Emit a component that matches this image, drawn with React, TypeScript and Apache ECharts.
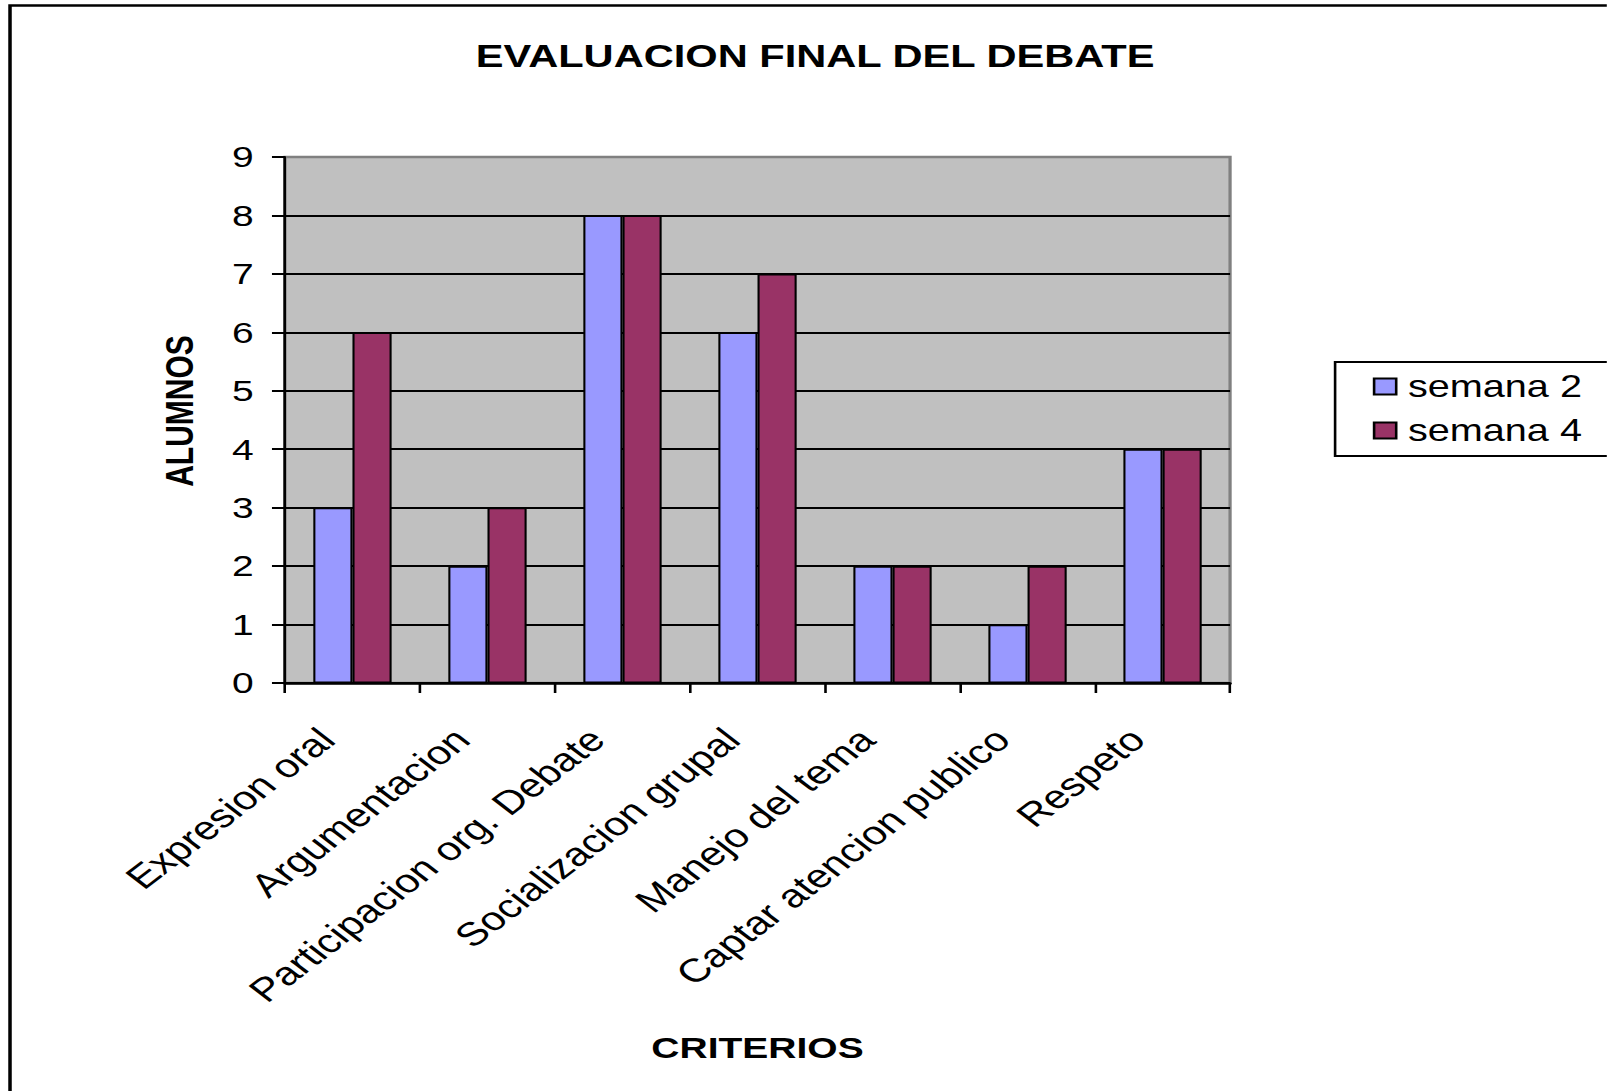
import React, { useEffect, useRef } from "react";
import * as echarts from "echarts";

const categories = [
  "Expresion oral",
  "Argumentacion",
  "Participacion org. Debate",
  "Socializacion grupal",
  "Manejo del tema",
  "Captar atencion publico",
  "Respeto",
];
const semana2 = [3, 2, 8, 6, 2, 1, 4];
const semana4 = [6, 3, 8, 7, 2, 2, 4];
const yTicks = [0, 1, 2, 3, 4, 5, 6, 7, 8, 9];

const STRETCH = 1.3;
const FULL_W = 1607;
const FULL_H = 1091;
const W = FULL_W / STRETCH;

export default function App() {
  const ref = useRef<HTMLDivElement>(null);
  useEffect(() => {
    if (!ref.current) return;
    const chart = echarts.init(ref.current, null, { renderer: "svg" });
    const font = "'Liberation Sans', Arial, sans-serif";
    const splitColors = yTicks.map((v) => (v === 9 ? "#808080" : "#000000"));
    chart.setOption({
      animation: false,
      backgroundColor: "#ffffff",
      textStyle: { fontFamily: font },
      title: {
        text: "EVALUACION FINAL DEL DEBATE",
        left: 622,
        top: 35,
        textAlign: "center",
        textStyle: { fontFamily: font, fontSize: 32, fontWeight: "bold", color: "#000" },
      },
      graphic: [
        {
          type: "rect",
          shape: { x: 7.7, y: 5.5, width: 3000, height: 3000 },
          style: { fill: "none", stroke: "#000", lineWidth: 2.7 },
          silent: true,
          z: -10,
        },
        {
          type: "rect",
          shape: { x: 1027, y: 362, width: 600, height: 94 },
          style: { fill: "#fff", stroke: "#000", lineWidth: 2 },
          silent: true,
          z: 0,
        },
      ],
      legend: {
        orient: "vertical",
        left: 1056,
        top: 371,
        itemWidth: 17,
        itemHeight: 16,
        itemGap: 13,
        icon: "rect",
        padding: 0,
        z: 5,
        textStyle: { fontFamily: font, fontSize: 30.5, color: "#000", padding: [0, 0, 0, 4] },
        data: ["semana 2", "semana 4"],
      },
      grid: {
        left: 219.2,
        top: 157,
        width: 727,
        height: 526,
        show: true,
        backgroundColor: "#C0C0C0",
        borderColor: "#808080",
        borderWidth: 2.5,
      },
      xAxis: {
        type: "category",
        data: categories,
        name: "CRITERIOS",
        nameLocation: "middle",
        nameGap: 350,
        nameTextStyle: { fontFamily: font, fontSize: 30, fontWeight: "bold", color: "#000" },
        axisLine: { show: true, lineStyle: { color: "#000", width: 2.5 } },
        axisTick: { show: true, length: 10, lineStyle: { color: "#000", width: 2 } },
        axisLabel: {
          rotate: 45,
          margin: 31,
          interval: 0,
          fontFamily: font,
          fontSize: 33,
          color: "#000",
          padding: [0, 28, 0, 0],
        },
        splitLine: { show: false },
      },
      yAxis: {
        type: "value",
        min: 0,
        max: 9,
        interval: 1,
        name: "ALUMNOS",
        nameLocation: "middle",
        nameGap: 66,
        nameTextStyle: {
          fontFamily: font,
          fontSize: 30,
          fontWeight: "bold",
          color: "#000",
          padding: [0, 0, 0, 18],
        },
        axisLine: { show: true, lineStyle: { color: "#000", width: 2 } },
        axisTick: { show: true, length: 10, lineStyle: { color: "#000", width: 2 } },
        axisLabel: { margin: 24, fontFamily: font, fontSize: 30, color: "#000" },
        splitLine: { show: true, lineStyle: { color: splitColors, width: 2 } },
      },
      series: [
        {
          name: "semana 2",
          type: "bar",
          data: semana2,
          barGap: "0%",
          barCategoryGap: "42%",
          itemStyle: { color: "#9999FF", borderColor: "#000", borderWidth: 1.6 },
        },
        {
          name: "semana 4",
          type: "bar",
          data: semana4,
          barGap: "0%",
          barCategoryGap: "42%",
          itemStyle: { color: "#993366", borderColor: "#000", borderWidth: 1.6 },
        },
      ],
    });
    return () => chart.dispose();
  }, []);

  return (
    <div
      style={{
        position: "absolute",
        left: 0,
        top: 0,
        width: FULL_W,
        height: FULL_H,
        overflow: "hidden",
        background: "#fff",
      }}
    >
      <div
        ref={ref}
        style={{
          width: W,
          height: FULL_H,
          transform: `scaleX(${STRETCH})`,
          transformOrigin: "0 0",
        }}
      />
    </div>
  );
}
